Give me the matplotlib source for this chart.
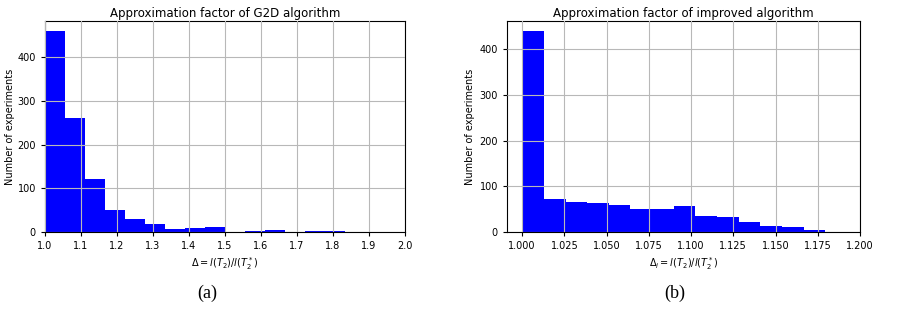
import numpy as np
import matplotlib.pyplot as plt

# Daten: Histogramm G2D (15 Klassen von 1.0 bis ~1.833)
g2d_lo, g2d_hi = 1.0, 1.8333
g2d_counts = [460, 262, 122, 51, 30, 19, 7, 9, 12, 0, 2, 5, 0, 2, 2]

# Daten: Histogramm verbesserter Algorithmus (14 Klassen von 1.0 bis ~1.1795)
imp_lo, imp_hi = 1.0, 1.1795
imp_counts = [440, 72, 66, 64, 59, 51, 51, 57, 36, 33, 22, 14, 11, 5]

g2d_ticks = [1.0, 1.1, 1.2, 1.3, 1.4, 1.5, 1.6, 1.7, 1.8, 1.9, 2.0]
imp_ticks = [1.000, 1.025, 1.050, 1.075, 1.100, 1.125, 1.150, 1.175, 1.200]

fig = plt.figure(figsize=(9.03, 3.31), dpi=100)
ax1 = fig.add_axes([45 / 903, 1 - 232 / 331, 360 / 903, 211 / 331])
ax2 = fig.add_axes([507 / 903, 1 - 232 / 331, 353 / 903, 211 / 331])


def draw_hist(ax, lo, hi, counts):
    edges = np.linspace(lo, hi, len(counts) + 1)
    ax.bar(edges[:-1], counts, width=np.diff(edges), align='edge',
           color='blue', linewidth=0)
    ax.set_axisbelow(False)
    ax.grid(True, color='#b8b8b8', linewidth=0.8)
    ax.set_ylim(0, max(counts) * 1.05)
    ax.tick_params(labelsize=7, length=3, width=0.8)
    for s in ax.spines.values():
        s.set_linewidth(0.8)


draw_hist(ax1, g2d_lo, g2d_hi, g2d_counts)
ax1.set_xlim(1.0, 2.0)
ax1.set_xticks(g2d_ticks)
ax1.set_xticklabels([f"{t:.1f}" for t in g2d_ticks])
ax1.set_yticks([0, 100, 200, 300, 400])
ax1.set_title("Approximation factor of G2D algorithm", fontsize=8.5, pad=3)
ax1.set_ylabel("Number of experiments", fontsize=7, labelpad=2)
ax1.set_xlabel(r'$\Delta = l(T_2)/l(T_2^*)$', fontsize=7, labelpad=3)

draw_hist(ax2, imp_lo, imp_hi, imp_counts)
ax2.set_xlim(0.991, 1.2)
ax2.set_xticks(imp_ticks)
ax2.set_xticklabels([f"{t:.3f}" for t in imp_ticks])
ax2.set_yticks([0, 100, 200, 300, 400])
ax2.set_title("Approximation factor of improved algorithm", fontsize=8.5, pad=3)
ax2.set_ylabel("Number of experiments", fontsize=7, labelpad=3)
ax2.set_xlabel(r'$\Delta_i = l(T_2)/l(T_2^*)$', fontsize=7, labelpad=3)

# Unterschriften (a), (b)
fig.text(207 / 903, 1 - 293 / 331, "(a)", family='Liberation Serif',
         fontsize=13, ha='center', va='center')
fig.text(675 / 903, 1 - 293 / 331, "(b)", family='Liberation Serif',
         fontsize=13, ha='center', va='center')

fig.savefig("out.png", dpi=100)
